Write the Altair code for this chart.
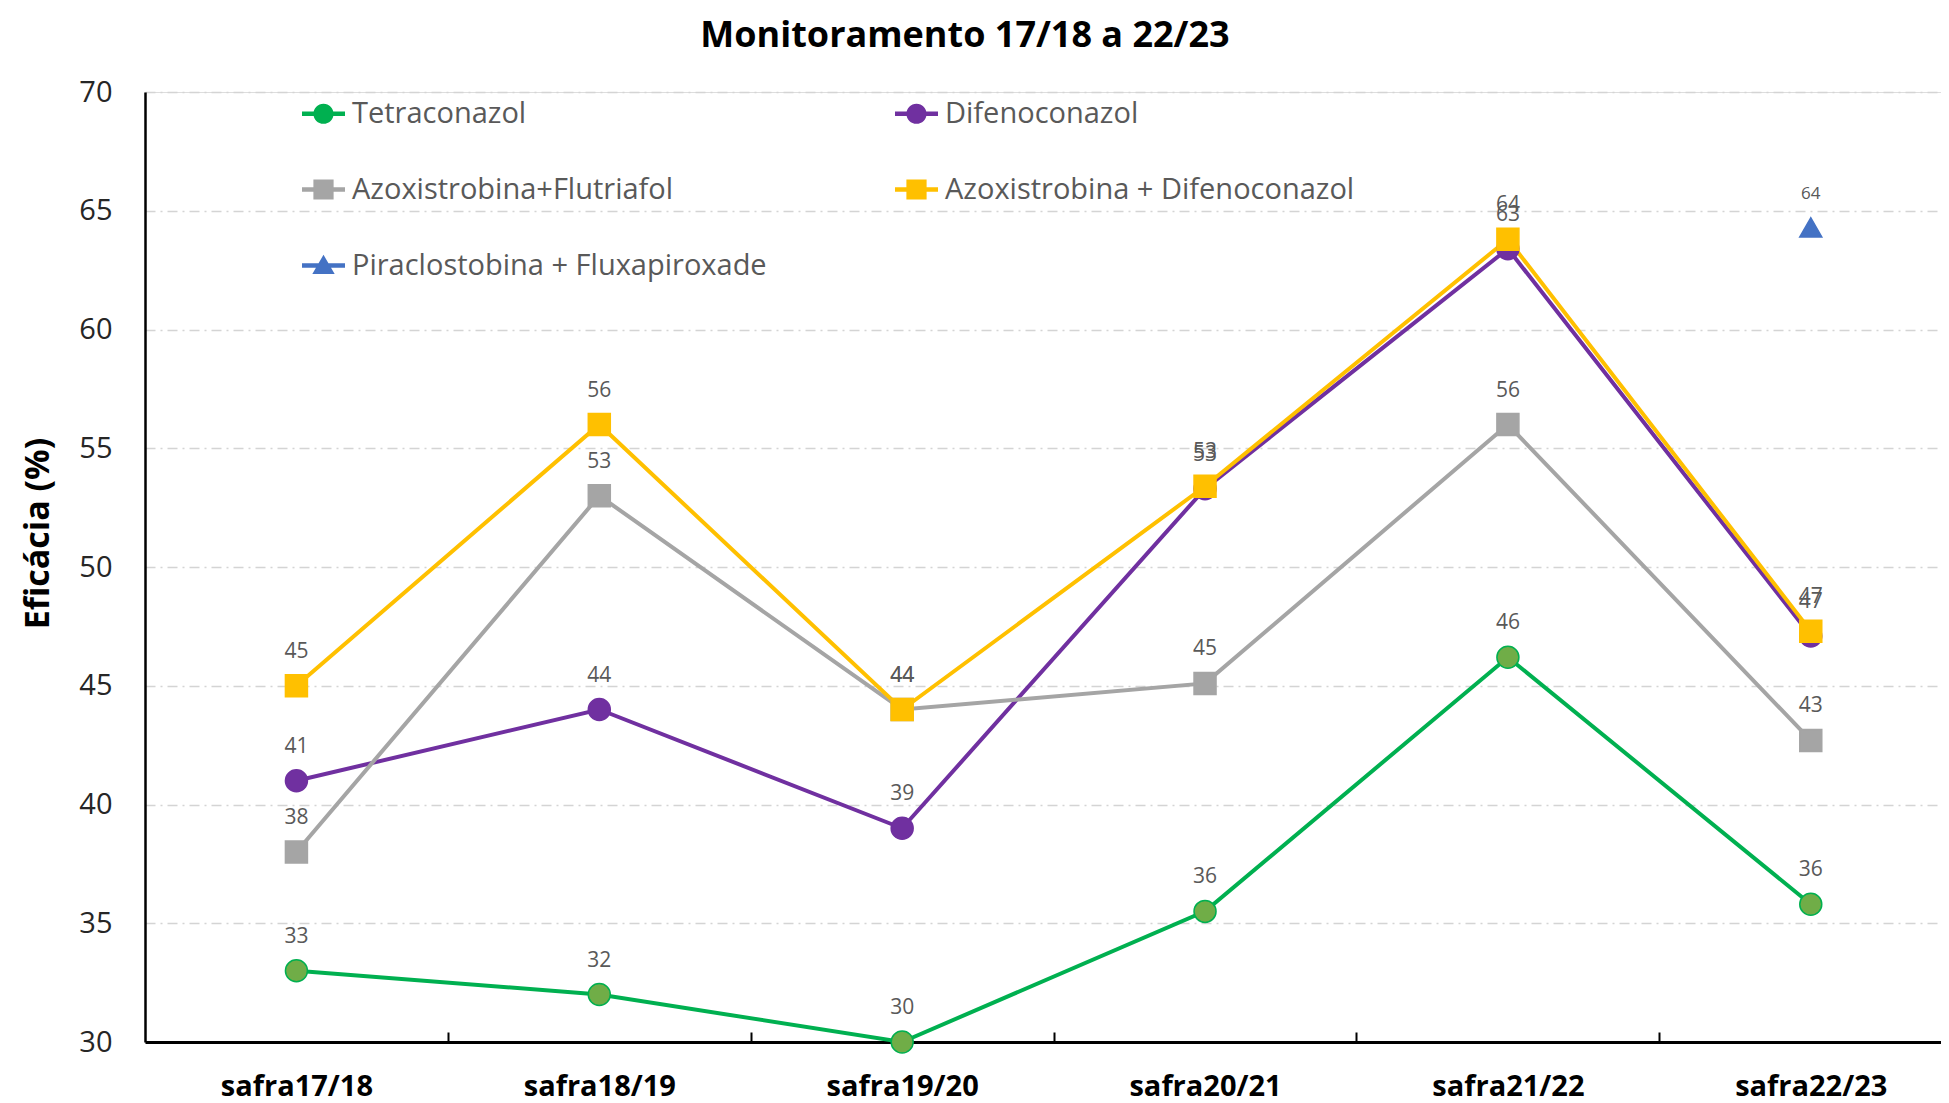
import altair as alt
import pandas as pd

categories = ["safra17/18", "safra18/19", "safra19/20", "safra20/21", "safra21/22", "safra22/23"]
series_names = [
    "Tetraconazol",
    "Difenoconazol",
    "Azoxistrobina+Flutriafol",
    "Azoxistrobina + Difenoconazol",
    "Piraclostobina + Fluxapiroxade",
]
tetraconazol = [33.0, 32.0, 30.0, 35.5, 46.2, 35.8]
difenoconazol = [41.0, 44.0, 39.0, 53.3, 63.4, 47.1]
azox_flutriafol = [38.0, 53.0, 44.0, 45.1, 56.0, 42.7]
azox_difenoconazol = [45.0, 56.0, 44.0, 53.4, 63.8, 47.3]
piraclostrobina = [None, None, None, None, None, 64.3]

line_colors = ["#00b050", "#7030a0", "#a5a5a5", "#ffc000", "#4472c4"]
marker_fills = ["#70ad47", "#7030a0", "#a5a5a5", "#ffc000", "#4472c4"]
marker_shapes = ["circle", "circle", "square", "square", "triangle-up"]

bar = "M-1,-0.11H1V0.11H-1Z"
circ = "M0.47,0A0.47,0.47 0 1,1 -0.47,0A0.47,0.47 0 1,1 0.47,0Z"
sq = "M-0.47,-0.47H0.47V0.47H-0.47Z"
tri = "M0,-0.5L0.52,0.4H-0.52Z"
legend_paths = [bar + circ, bar + circ, bar + sq, bar + sq, bar + tri]

rows = []
for k, (name, vals) in enumerate(zip(series_names, [tetraconazol, difenoconazol, azox_flutriafol,
                                                      azox_difenoconazol, piraclostrobina])):
    for i, v in enumerate(vals):
        if v is not None:
            rows.append({"serie": name, "idx": i, "safra": categories[i], "v": v, "k": k})
df = pd.DataFrame(rows)

FONT = "Open Sans"
x_scale = alt.Scale(domain=[-0.5, 5.43], nice=False, zero=False)
label_expr = "[" + ",".join(f"'{c}'" for c in categories) + "][datum.value]"

x_labels = alt.X(
    "idx:Q", scale=x_scale,
    axis=alt.Axis(orient="bottom", values=list(range(len(categories))), labelExpr=label_expr,
                  title=None, ticks=False, grid=False, domainColor="#000000", domainWidth=3,
                  labelFontSize=29, labelFontWeight="bold", labelColor="#000000",
                  labelPadding=30, labelFont=FONT))
x_ticks = alt.X(
    "idx:Q", scale=x_scale,
    axis=alt.Axis(orient="bottom", values=[0.5, 1.5, 2.5, 3.5, 4.5], labels=False, domain=False,
                  grid=False, ticks=True, tickSize=10, tickWidth=2, tickColor="#000000",
                  offset=-10, title=None))
x_none = alt.X("idx:Q", scale=x_scale, axis=None)

y_enc = alt.Y(
    "v:Q", scale=alt.Scale(domain=[30, 70], nice=False, zero=False),
    axis=alt.Axis(values=[30, 35, 40, 45, 50, 55, 60, 65, 70], title="Eficácia (%)",
                  titleFontSize=34, titleFontWeight="bold", titleColor="#000000", titleFont=FONT,
                  titleAngle=270, titleX=-107, titleY=441, titleAlign="center",
                  titleBaseline="middle", labelFontSize=29, labelColor="#262626", labelFont=FONT,
                  labelPadding=33, ticks=False, domainColor="#000000", domainWidth=2.5,
                  grid=True, gridColor="#d4d4d4", gridDash=[10, 5, 2, 5], gridWidth=1.5))

lines = alt.Chart(df).mark_line(strokeWidth=4).encode(
    x=x_labels, y=y_enc,
    color=alt.Color("serie:N", scale=alt.Scale(domain=series_names, range=line_colors), legend=None),
    order="idx:Q",
)

points = alt.Chart(df).mark_point(filled=True, size=484, opacity=1, strokeWidth=1.5).encode(
    x=x_ticks, y=y_enc,
    fill=alt.Fill("serie:N", scale=alt.Scale(domain=series_names, range=marker_fills), legend=None),
    stroke=alt.Stroke("serie:N", scale=alt.Scale(domain=series_names, range=line_colors), legend=None),
    shape=alt.Shape("serie:N", scale=alt.Scale(domain=series_names, range=marker_shapes), legend=None),
)

labels = alt.Chart(df).mark_text(baseline="alphabetic", dy=-28, font=FONT, color="#595959").encode(
    x=x_none, y=y_enc,
    text=alt.Text("v:Q", format=".0f"),
    size=alt.condition("datum.serie == 'Piraclostobina + Fluxapiroxade'", alt.value(17), alt.value(21)),
)

leg_cfg = dict(title=None, orient="none", legendX=157, legendY=0, columns=2, direction="horizontal",
               columnPadding=128, rowPadding=39, labelFontSize=29, labelColor="#595959",
               labelFont=FONT, labelOffset=7, labelLimit=800, symbolSize=1849,
               symbolStrokeWidth=0, padding=0)

legend_layer = alt.Chart(df).transform_filter("false").mark_point(filled=True, opacity=1, size=1849).encode(
    x=x_none, y=y_enc,
    color=alt.Color("serie:N", scale=alt.Scale(domain=series_names, range=line_colors),
                    legend=alt.Legend(**leg_cfg)),
    shape=alt.Shape("serie:N", scale=alt.Scale(domain=series_names, range=legend_paths),
                    legend=alt.Legend(**leg_cfg)),
)

chart = alt.layer(lines, points, labels, legend_layer).resolve_scale(
    color="independent", shape="independent"
).resolve_axis(x="independent").properties(
    width=1796, height=950,
    title=alt.Title("Monitoramento 17/18 a 22/23", fontSize=36, fontWeight="bold", color="#000000",
                    font=FONT, anchor="middle", dx=-78, offset=23),
    autosize=alt.AutoSizeParams(type="none"),
    padding={"left": 137, "top": 84, "right": 0, "bottom": 61},
).configure_view(stroke=None).configure(background="white", font=FONT)

chart.save("out.html", embed_options={"renderer": "svg", "actions": False})
